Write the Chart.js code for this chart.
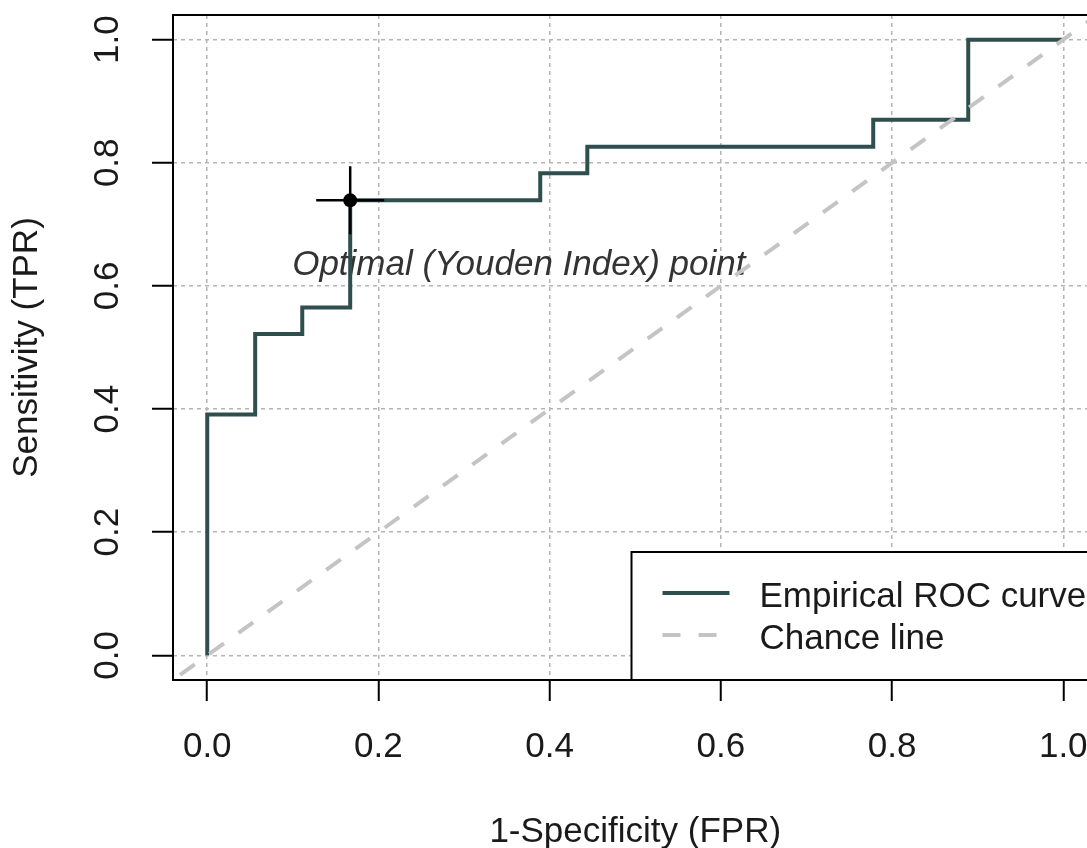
<!DOCTYPE html>
<html>
<head>
<meta charset="utf-8">
<script src="https://cdn.jsdelivr.net/npm/chart.js@4/dist/chart.umd.min.js"></script>
<style>
  html, body { margin: 0; padding: 0; background: #fff; overflow: hidden; }
  #wrap { width: 1120px; height: 848px; }
</style>
</head>
<body>
<div id="wrap"><canvas id="roc" width="1120" height="848"></canvas></div>
<script>
// ROC curve vertices (FPR, TPR) - step drawn horizontal first, then up
const fpr = [0, 0, 0.056, 0.111, 0.167, 0.389, 0.444, 0.778, 0.889, 1.0];
const tpr = [0, 0.391, 0.522, 0.565, 0.739, 0.783, 0.826, 0.870, 1.0, 1.0];
// chance diagonal, ends lie outside the box so it is clipped like abline()
const chanceX = [-0.1, 1.1];
const chanceY = [-0.1, 1.1];
// optimal (Youden) cut point
const youdenFpr = [0.167];
const youdenTpr = [0.739];
const xTicks = [0, 0.2, 0.4, 0.6, 0.8, 1.0];
const yTicks = [0, 0.2, 0.4, 0.6, 0.8, 1.0];
const legendLabels = ['Empirical ROC curve', 'Chance line'];
const noteText = 'Optimal (Youden Index) point';

const FONT = '"Liberation Sans", Arial, sans-serif';
const ROC_COL = '#2f4f4f';
const CHANCE_COL = '#c4c4c4';
const TXT = '#1a1a1a';

const toXY = (xs, ys) => xs.map((x, i) => ({ x: x, y: ys[i] }));

// no label padding, the box is placed by hand like R's par(mar)
const noPad = s => { s.paddingLeft = s.paddingRight = s.paddingTop = s.paddingBottom = 0; };

// box, y tick labels, note and legend (R style)
const rPlot = {
    id: 'rPlot',
    beforeDatasetsDraw(chart) {
        const { ctx, scales: { x, y } } = chart;
        ctx.save();
        ctx.fillStyle = '#333';
        ctx.font = 'italic 35px ' + FONT;
        ctx.textAlign = 'center';
        ctx.textBaseline = 'middle';
        ctx.fillText(noteText, x.getPixelForValue(0.364), y.getPixelForValue(0.634));
        ctx.restore();
    },
    afterDatasetsDraw(chart) {
        const { ctx, chartArea: a, scales: { x, y } } = chart;
        ctx.save();

        // y tick labels, rotated like las=0
        ctx.fillStyle = TXT;
        ctx.font = '35px ' + FONT;
        ctx.textAlign = 'center';
        ctx.textBaseline = 'middle';
        yTicks.forEach(v => {
            ctx.save();
            ctx.translate(108, y.getPixelForValue(v));
            ctx.rotate(-Math.PI / 2);
            ctx.fillText(v.toFixed(1), 0, 0);
            ctx.restore();
        });

        // legend, bottom right
        const w = 466, h = 128;
        const lx = a.right - w, ly = a.bottom - h;
        ctx.fillStyle = '#fff';
        ctx.fillRect(lx, ly, w, h);
        ctx.strokeStyle = '#000';
        ctx.lineWidth = 2;
        ctx.strokeRect(lx, ly, w, h);

        const rows = [
            { col: ROC_COL, dash: [] },
            { col: CHANCE_COL, dash: [18, 18] }
        ];
        rows.forEach((r, i) => {
            const cy = ly + 41 + i * 42;
            ctx.beginPath();
            ctx.setLineDash(r.dash);
            ctx.strokeStyle = r.col;
            ctx.lineWidth = 4;
            ctx.moveTo(lx + 31, cy);
            ctx.lineTo(lx + 98, cy);
            ctx.stroke();
            ctx.setLineDash([]);
            ctx.fillStyle = TXT;
            ctx.textAlign = 'left';
            ctx.fillText(legendLabels[i], lx + 128, cy + 4);
        });

        // plot box
        ctx.strokeStyle = '#000';
        ctx.lineWidth = 2;
        ctx.strokeRect(a.left, a.top, a.right - a.left, a.bottom - a.top);
        ctx.restore();
    }
};

const gridOpts = {
    color: '#b4b4b4',
    lineWidth: 1.5,
    tickColor: '#000',
    tickLength: 21,
    tickWidth: 2,
    tickBorderDash: []
};

new Chart(document.getElementById('roc'), {
    type: 'scatter',
    data: {
        datasets: [
            {
                label: 'Youden dot',
                data: toXY(youdenFpr, youdenTpr),
                pointStyle: 'circle',
                pointRadius: 7,
                backgroundColor: '#000',
                borderColor: '#000',
                borderWidth: 0
            },
            {
                label: 'Youden cross',
                data: toXY(youdenFpr, youdenTpr),
                pointStyle: 'cross',
                pointRadius: 34,
                borderColor: '#000',
                borderWidth: 2.5
            },
            {
                label: legendLabels[1],
                data: toXY(chanceX, chanceY),
                showLine: true,
                pointRadius: 0,
                borderColor: CHANCE_COL,
                borderWidth: 4,
                borderDash: [18, 18],
                clip: 0
            },
            {
                label: legendLabels[0],
                data: toXY(fpr, tpr),
                showLine: true,
                stepped: 'before',
                pointRadius: 0,
                borderColor: ROC_COL,
                borderWidth: 4
            }
        ]
    },
    options: {
        responsive: false,
        animation: false,
        layout: { autoPadding: false, padding: { top: 15, right: 22.5, left: 0, bottom: 0 } },
        plugins: { legend: { display: false }, tooltip: { enabled: false } },
        scales: {
            x: {
                type: 'linear',
                min: -0.04,
                max: 1.04,
                afterBuildTicks: s => { s.ticks = xTicks.map(v => ({ value: v })); },
                afterFit: s => { s.height = 168; noPad(s); },
                grid: gridOpts,
                border: { display: false, dash: [4, 4] },
                ticks: {
                    autoSkip: false,
                    maxRotation: 0,
                    padding: 29,
                    color: TXT,
                    font: { family: FONT, size: 35, lineHeight: 1 },
                    callback: v => v.toFixed(1)
                },
                title: {
                    display: true,
                    text: '1-Specificity (FPR)',
                    color: TXT,
                    padding: 0,
                    font: { family: FONT, size: 35, lineHeight: 0.9 }
                }
            },
            y: {
                type: 'linear',
                min: -0.04,
                max: 1.04,
                afterBuildTicks: s => { s.ticks = yTicks.map(v => ({ value: v })); },
                afterFit: s => { s.width = 173; noPad(s); },
                grid: gridOpts,
                border: { display: false, dash: [4, 4] },
                ticks: { display: false },
                title: {
                    display: true,
                    text: 'Sensitivity (TPR)',
                    color: TXT,
                    padding: { top: 12, bottom: 0 },
                    font: { family: FONT, size: 35, lineHeight: 0.9 }
                }
            }
        }
    },
    plugins: [rPlot]
});
</script>
</body>
</html>
